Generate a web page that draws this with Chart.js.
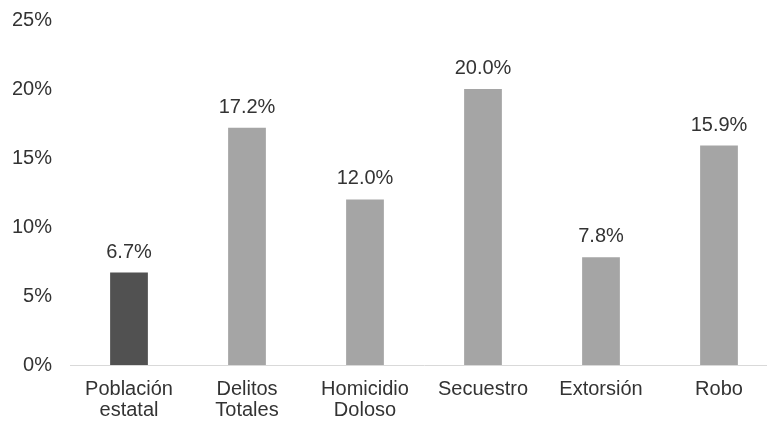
<!DOCTYPE html>
<html>
<head>
<meta charset="utf-8">
<script src="https://cdn.jsdelivr.net/npm/chart.js@4.4.1/dist/chart.umd.min.js"></script>
<style>
html,body{margin:0;padding:0;background:#fff;overflow:hidden;}
#wrap{position:absolute;left:0;top:0;width:780px;height:423px;}
</style>
</head>
<body>
<div id="wrap"><canvas id="c" width="780" height="423"></canvas></div>
<script>
const categories = [["Población","estatal"],["Delitos","Totales"],["Homicidio","Doloso"],"Secuestro","Extorsión","Robo"];
const values = [6.7, 17.2, 12.0, 20.0, 7.8, 15.9];
const barColors = ["#515151","#a5a5a5","#a5a5a5","#a5a5a5","#a5a5a5","#a5a5a5"];
const yTicks = [0,5,10,15,20,25];

const FONT = "'Liberation Sans', Arial, sans-serif";
const TEXT = "#333333";

const labelPlugin = {
  id: 'valLabels',
  afterDatasetsDraw(chart){
    const ctx = chart.ctx;
    const meta = chart.getDatasetMeta(0);
    ctx.save();
    ctx.font = "20px " + FONT;
    ctx.fillStyle = TEXT;
    ctx.textAlign = 'center';
    ctx.textBaseline = 'alphabetic';
    meta.data.forEach((bar,i)=>{
      ctx.fillText(values[i].toFixed(1) + '%', bar.x, bar.y - 15);
    });
    ctx.restore();
  }
};

new Chart(document.getElementById('c'), {
  type: 'bar',
  data: {
    labels: categories,
    datasets: [{
      data: values,
      backgroundColor: barColors,
      borderWidth: 0,
      categoryPercentage: 1,
      barPercentage: 0.32
    }]
  },
  options: {
    responsive: false,
    animation: false,
    layout: { padding: { top: 20, right: 2, left: 0, bottom: 0 } },
    plugins: { legend: { display: false }, tooltip: { enabled: false } },
    scales: {
      x: {
        grid: { display: false, drawTicks: false },
        border: { display: true, color: '#d9d9d9', width: 1 },
        ticks: { color: TEXT, font: { family: FONT, size: 20, lineHeight: 1.05 }, padding: 14, maxRotation: 0, autoSkip: false },
        afterFit(s){ s.height = 58; s.paddingLeft = 0; s.paddingRight = 0; }
      },
      y: {
        min: 0, max: 25,
        afterBuildTicks(s){ s.ticks = yTicks.map(v=>({value:v})); },
        grid: { display: false, drawTicks: false },
        border: { display: false },
        ticks: { color: TEXT, font: { family: FONT, size: 20 }, padding: 18, callback: v => v + '%' },
        afterFit(s){ s.width = 70; s.paddingTop = 0; s.paddingBottom = 0; }
      }
    }
  },
  plugins: [labelPlugin]
});
</script>
</body>
</html>
